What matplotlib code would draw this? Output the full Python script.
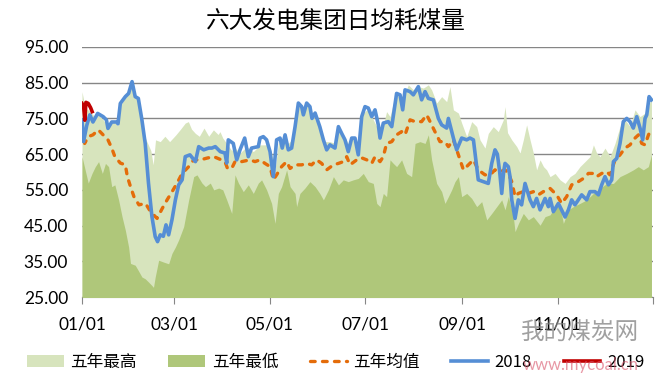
import numpy as np
import matplotlib
matplotlib.use("Agg")
import matplotlib.pyplot as plt

plt.rcParams['font.family'] = ['Lato', 'Noto Sans CJK SC', 'DejaVu Sans']

# ---- data (day of year, value) ----
max_days = [0, 2, 5, 8, 10, 13, 16, 20, 23, 25, 28, 30, 32.5, 34, 36, 38.3, 40, 42, 44, 45.5, 47, 50, 53, 56, 60,
            63, 66, 68, 70, 72.5, 75, 78, 81, 84, 87, 88.2, 90, 92.5, 95.7, 97, 101, 105.2, 109.5, 113.8, 118,
            121.2, 123.4, 125.5, 128.7, 131.9, 134, 136.2, 138.3, 141.5, 144.7, 147.9, 151, 153.2, 155.3, 158.5,
            161.7, 163.9, 167, 170.2, 173.4, 176.6, 178.8, 182, 184, 188.4, 191.6, 194.7, 196.9, 199, 202.2,
            205.4, 208.6, 211.8, 215, 218.2, 221.4, 223.5, 226.7, 229.9, 233.1, 235.2, 237.4, 240.6, 242.7,
            245.9, 249.1, 252.3, 254.4, 257.6, 259.7, 262.9, 266.1, 269.3, 270.4, 272, 274.7, 277.9, 280, 282.1,
            284.2, 286.4, 288.5, 290.6, 292.8, 295, 297, 299.2, 302.4, 305.6, 308.8, 312, 315.1, 318.3, 321.5,
            324.7, 326.9, 329, 331.1, 334.3, 337.5, 340.7, 343.9, 347.1, 350.3, 353.5, 356.7, 359.9, 362, 364]
max_vals = [82.5, 78, 77, 75.5, 76, 75, 73, 74, 73, 79, 81, 82, 85, 81, 80, 74.6, 70, 68, 66, 62, 69, 68.5, 70, 68.5,
            70.4, 72, 73.7, 74.1, 72, 70.8, 70, 72.3, 70, 71.8, 70.5, 71.3, 69.5, 68, 66, 67.1, 65.3, 67.1, 65.7,
            67.6, 67.6, 65.3, 60.6, 68, 69.9, 68, 69, 72.7, 78.3, 78.3, 78.8, 75.5, 73.2, 70.4, 68.5, 68.5, 68,
            71.8, 70.4, 68, 69.9, 68, 76, 77.4, 76.5, 72.7, 71.3, 76.9, 75.5, 79.3, 81.6, 81.1, 84.4, 83, 83.9,
            83.5, 84.4, 83, 79.3, 81.1, 79.7, 83.9, 77.4, 76.5, 73.7, 69.9, 74.1, 72.7, 69, 66.7, 70.8, 72.7,
            71.3, 74.6, 78.3, 71, 69, 67.1, 65.3, 69, 73.2, 69, 65.3, 60.6, 63.4, 61.5, 60.6, 58.7, 59.6, 57.8,
            56.8, 58.7, 59.6, 61.5, 62.9, 64.3, 67.6, 65.3, 64.3, 66.7, 64.3, 68, 72.7, 74.6, 72.7, 77.4, 75.5,
            76.5, 77.9, 81.1]

min_days = [0, 2, 4, 6.4, 8.5, 10.6, 13, 15, 17, 19, 21, 23.4, 25.6, 27.7, 29.8, 31, 34, 36, 38.3, 40.4, 42.5,
            44.7, 45.7, 46.8, 49, 52, 55.4, 57.5, 59.7, 61.8, 65, 68.2, 71.4, 73.5, 76.7, 78.9, 82, 84.2, 87.4,
            90, 92.5, 95.7, 97.8, 100, 103.1, 106.3, 109.5, 112.7, 114.8, 118, 121.2, 123.4, 125.5, 127.6, 130.8,
            133, 136.2, 137.2, 139.3, 142.5, 145.7, 149, 152, 154.3, 157.5, 160.7, 163.9, 167, 170.2, 173.4,
            176.6, 179.8, 183, 186.2, 188.4, 190.5, 192.6, 194.7, 196.9, 199, 201.1, 204.3, 207.5, 210.7, 212.9,
            216, 219.3, 221.4, 223.5, 226.7, 229.9, 232, 234.2, 236.3, 238.4, 240.6, 242.7, 245.9, 249.1, 252.3,
            255.5, 258.7, 261.9, 265.1, 268.3, 270.4, 272.5, 275.7, 276.8, 279, 282.1, 285.3, 288.5, 292.8, 296,
            299.2, 302.4, 305.6, 307.7, 310.9, 314.1, 318.3, 322.6, 326.9, 331.1, 335.4, 339.7, 343.9, 348.2,
            352.4, 355.6, 358.8, 362, 364]
min_vals = [64.3, 60.6, 56.9, 59.6, 61.5, 62.9, 59.6, 62.4, 61.5, 55.9, 56.4, 52.2, 47.5, 43.7, 39, 34.4, 33.9,
            32.4, 30.6, 30.1, 29.2, 28.2, 27.7, 30.6, 35.3, 34.8, 34.3, 37.2, 39, 41, 44.7, 52.2, 58.7, 59.2,
            56.9, 55.9, 56.9, 55, 55.5, 55, 52.2, 48.4, 59.2, 56.9, 54.5, 56.4, 54, 56.9, 57.8, 55, 51.2, 45.6,
            54, 55.9, 60.6, 55.9, 54, 50.3, 54, 55.5, 57.3, 55.9, 54, 52.2, 55, 58.7, 56.4, 57.8, 57.3, 57.8,
            58.2, 59.6, 57.3, 56.8, 51.2, 50.3, 54, 53.1, 63.4, 62.4, 61.5, 63.4, 59.6, 58.7, 68, 68.5, 68, 70.4,
            63.4, 56.8, 54.5, 51.2, 53.1, 55, 57.3, 58.7, 53.1, 54, 52.6, 50.3, 51.7, 46.6, 48.4, 50.3, 52.2,
            49.4, 53.1, 47.5, 43.3, 45.6, 48.4, 46.6, 47.5, 45.1, 47.5, 48, 50.3, 50.3, 45.6, 49.4, 50.3, 51.2,
            52.2, 54, 55.4, 56.8, 56.8, 58.7, 59.6, 60.6, 61.5, 60.6, 61.5, 64.8]

avg_days = [0, 1.7, 4, 7, 10.4, 13.5, 16.6, 19, 21, 24.5, 27.7, 29, 31, 33.2, 36.4, 40.6, 43.8, 48, 51.3, 54.4,
            57.6, 60.8, 64, 68.2, 71.4, 75.7, 80, 84.2, 88, 91.4, 93, 95.7, 97.8, 102, 107.4, 110.6, 113.8, 117,
            120.2, 122.3, 124.4, 127.6, 130.8, 133, 136.2, 140.4, 143.6, 146.8, 150, 153.2, 156.4, 160.7, 163.9,
            167, 169.2, 171.3, 175.6, 178.5, 182, 185.2, 187.3, 190.5, 192.6, 194.7, 198, 201.1, 204.3, 206.5,
            209.7, 212.9, 217.1, 220.3, 222.5, 225.6, 228.8, 232, 234.2, 237.4, 240.6, 243.8, 247, 250.2, 253.3,
            257.6, 260.8, 264, 267.2, 270.4, 272.5, 274.7, 276.8, 278.9, 282.1, 285.3, 288.5, 291.7, 294.9,
            299.2, 303.4, 306.6, 309.8, 313, 317.3, 320.5, 323.7, 326.9, 329, 332.2, 335.4, 337.5, 340.7, 343.9,
            347.1, 350.3, 353.5, 355.7, 357.8, 359.9, 362.1, 364.2]
avg_vals = [71.8, 68, 69.9, 70.4, 71.8, 70.4, 69, 66.7, 64.3, 62.5, 62, 58.7, 55.9, 53.1, 50.8, 51.2, 48.9, 47,
            49.8, 52.2, 54.5, 56.9, 59.6, 61.5, 63.4, 63.4, 63.9, 64.3, 63.6, 62.9, 61, 61, 62.9, 62.9, 63.4,
            62.9, 63.4, 62.4, 61.5, 57.8, 59.2, 61.5, 62.9, 61, 62, 62, 62.4, 62, 63.4, 62.4, 60.6, 62, 62.4,
            62.9, 64.3, 62, 63.4, 64, 63.4, 62.4, 64.3, 62.9, 64.3, 68, 68.5, 70.4, 71.3, 70.4, 74.6, 74.1, 74.1,
            76, 74.1, 71.3, 68.5, 68.5, 67.1, 69, 64.8, 60.6, 62, 63.4, 60.6, 59.2, 59.2, 60.6, 60.1, 60.6, 59.6,
            57.3, 53.1, 54, 54.5, 54, 54.5, 53.6, 54.5, 55.4, 53.6, 51.2, 53.1, 56.4, 57.3, 58.2, 59.6, 59.6,
            58.7, 59.6, 60.1, 59.2, 63.4, 64.8, 66.7, 67.6, 69.5, 70.4, 68, 67.6, 70.4, 72.3]

y2018_days = [0, 1, 3, 5, 7, 10, 13.5, 15.6, 16.6, 19, 22, 23, 24.5, 27.7, 29.8, 32, 34, 36, 38.3, 40.4, 42.5,
              44.7, 46.8, 48.3, 50, 52, 53.7, 55.4, 57.5, 59.7, 61.8, 64, 66, 69, 72.5, 74.6, 77.8, 81, 83, 85.2,
              88.4, 91.4, 92.5, 93.5, 96.7, 98.9, 101, 104, 106.3, 108.4, 112.7, 113.8, 115.9, 118, 120.2, 122.3,
              124.4, 126.6, 128, 129.8, 131.9, 134, 136.2, 138.3, 140.4, 141.5, 143.6, 145.7, 147, 149, 152,
              154.3, 156.4, 158.5, 161.7, 163.9, 166, 168.1, 170.2, 172.4, 174.5, 176.6, 178.8, 180.9, 183, 185.2,
              187.3, 189.4, 190.5, 192.6, 195.8, 198, 201.1, 203.3, 205, 206.5, 209.7, 211.8, 215, 217.1, 219.3,
              221.4, 224.6, 227.8, 229.9, 233.1, 234.2, 237.4, 239.5, 242.7, 245.9, 248, 250.2, 253.3, 256.5,
              259.7, 261.9, 264, 265.5, 267, 268.3, 269.5, 270.4, 272.5, 273.6, 274.7, 276.8, 278.9, 281, 283.2,
              286.4, 288.5, 290.6, 292.8, 296, 298.1, 299.2, 301.3, 304.5, 308.8, 310.9, 313, 315.1, 319.4,
              322.6, 324.7, 327.9, 330.1, 332.2, 334.3, 336.5, 338.6, 339.7, 341.8, 343.9, 346, 348.2, 350.3,
              352.4, 354.6, 356.7, 358.4, 359.9, 361, 362.5, 364]
y2018_vals = [74.6, 68.5, 73, 76, 74, 76.4, 75.5, 74.6, 72.2, 74, 74, 73.5, 79.2, 81.1, 82, 85.3, 81.1, 80.6,
              74.6, 68, 56.9, 47.5, 41.9, 40.5, 42.4, 42, 45.2, 42.4, 46.6, 52.2, 56.4, 57.8, 64.3, 64.8, 62.9,
              67.1, 66.2, 66.7, 66.7, 67.1, 65.7, 65.3, 62.5, 69, 68, 63.4, 66.2, 69.5, 64.3, 66.7, 67.1, 69.5,
              69.9, 69, 65.7, 58.7, 69, 69.5, 66.7, 70.4, 66.2, 66.7, 72.7, 79.3, 78.3, 76, 79.3, 78.3, 75, 76.5,
              72.7, 69, 66.2, 67.6, 66.7, 72.7, 70.8, 69, 65.7, 69.5, 69.5, 64.8, 75.5, 78.3, 77.9, 75.5, 77.4,
              73.2, 69.5, 73.7, 74.1, 72.7, 82, 81.6, 77.4, 83, 82.5, 81.6, 83.9, 80.2, 82.5, 80.6, 80.2, 75,
              73.2, 72.3, 75, 69.5, 66.2, 69.5, 69, 69.5, 69, 57.8, 57.3, 56.8, 62.4, 66.2, 65, 60, 54, 60, 62.4,
              61.5, 58.7, 52.2, 47, 52.2, 50.8, 56.8, 52.2, 50.3, 52.6, 49.4, 52.6, 50.3, 52.6, 48.9, 51.2, 47.4,
              49.4, 52.2, 50.8, 53.6, 52.2, 54.5, 54.5, 53.6, 56.4, 58.7, 56.4, 57.8, 62.9, 63.8, 68, 74.1, 75,
              74.1, 72.3, 75.5, 72.3, 69, 75, 76, 81.1, 80.2]

y2019_days = [0, 1, 1.8, 2.5, 4, 5.5, 6.5]
y2019_vals = [79.2, 78.5, 74.5, 79.5, 79.2, 78, 76.9]

tick_days = [0, 59, 120, 181, 243, 304, 365]
tick_labels = ['01/01', '03/01', '05/01', '07/01', '09/01', '11/01', '']
y_ticks = [25, 35, 45, 55, 65, 75, 85, 95]

fig = plt.figure(figsize=(6.71, 3.82), dpi=100)
ax = fig.add_axes([0.1222, 0.2225, 0.851, 0.6545])

ax.fill_between(max_days, 0, max_vals, color='#D7E4BD', linewidth=0, label='五年最高', zorder=2)
ax.fill_between(min_days, 0, min_vals, color='#AFC77A', linewidth=0, label='五年最低', zorder=3)
ax.plot(avg_days, avg_vals, color='#E46C0A', linewidth=2.4, linestyle=(0, (1.4, 2.2)),
        dash_capstyle='round', label='五年均值', zorder=4)
ax.plot(y2018_days, y2018_vals, color='#558ED5', linewidth=2.6, solid_joinstyle='round', label='2018', zorder=5)
ax.plot(y2019_days, y2019_vals, color='#C00000', linewidth=2.6, label='2019', zorder=6)

ax.set_xlim(0, 365)
ax.set_ylim(25, 95)
ax.set_yticks(y_ticks)
ax.set_yticklabels([f"{v:.2f}" for v in y_ticks])
ax.set_xticks(tick_days)
ax.set_xticklabels(tick_labels)
ax.yaxis.grid(True, color='#868686', linewidth=1.0, zorder=1)
ax.set_axisbelow(True)
for s in ['top', 'right', 'left']:
    ax.spines[s].set_visible(False)
ax.spines['bottom'].set_color('#868686')
ax.tick_params(axis='y', length=0, labelsize=12.5, pad=10)
ax.tick_params(axis='x', direction='out', length=5, color='#868686', labelsize=12.5, pad=9)

fig.text(0.5, 0.945, '六大发电集团日均耗煤量', ha='center', va='center', fontsize=17,
         family=['Noto Sans CJK SC', 'DejaVu Sans'])

leg = fig.legend(loc='center', bbox_to_anchor=(0.5, 0.052), ncol=5, frameon=False,
                 prop={'family': ['Noto Sans CJK SC', 'DejaVu Sans'], 'size': 12},
                 handlelength=2.2, handletextpad=0.4, columnspacing=1.9)

# watermark
fig.text(0.865, 0.128, '我的煤炭网', ha='center', va='center', fontsize=17, color='#808080', alpha=0.75,
         family=['Noto Sans CJK SC', 'DejaVu Sans'], zorder=10)
fig.text(0.865, 0.045, 'www.mycoal.cn', ha='center', va='center', fontsize=12, color='#D9546A', alpha=0.6,
         zorder=10)

fig.savefig('out.png', dpi=100)
